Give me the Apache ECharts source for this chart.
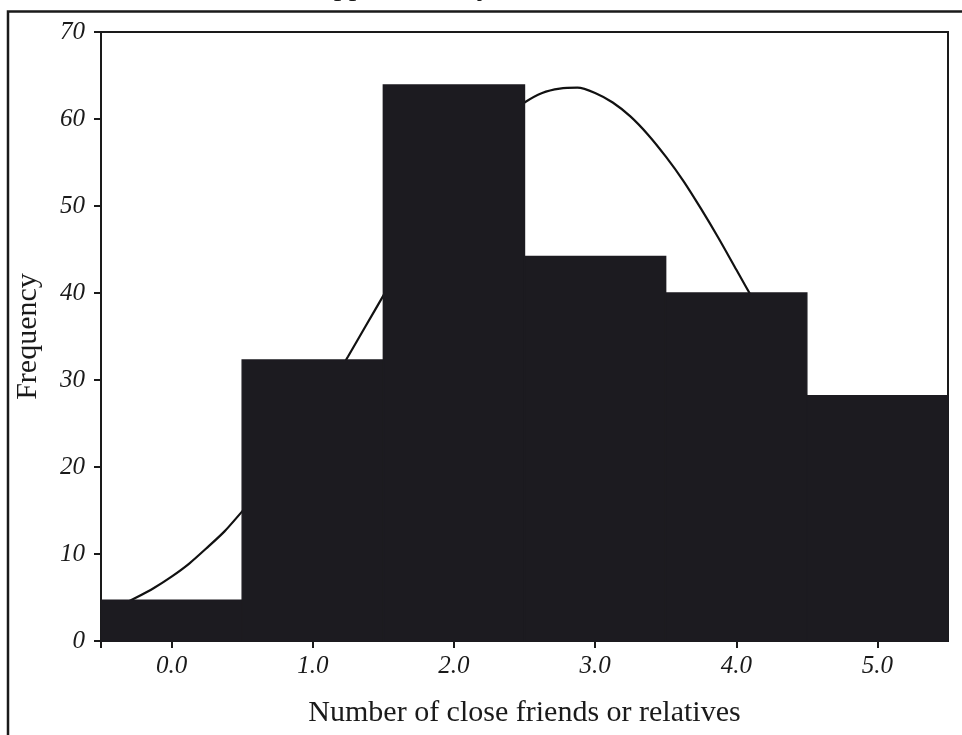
<!DOCTYPE html>
<html>
<head>
<meta charset="utf-8">
<script src="https://cdn.jsdelivr.net/npm/echarts@6/dist/echarts.min.js"></script>
<style>
html,body{margin:0;padding:0;background:#fff;}
#chart{width:962px;height:735px;}
</style>
</head>
<body>
<div id="chart"></div>
<script>
// Histogram bins (centres) and frequencies
const binCenters = [0, 1, 2, 3, 4, 5];
const frequencies = [4.7, 32.3, 63.9, 44.2, 40.0, 28.2];
// Fitted curve (x every 0.125)
const curveX = [-0.5, -0.375, -0.25, -0.125, 0.0, 0.125, 0.25, 0.375, 0.5, 0.625, 0.75, 0.875,
  1.0, 1.125, 1.25, 1.375, 1.5, 1.625, 1.75, 1.875, 2.0, 2.125, 2.25, 2.375, 2.5, 2.625, 2.75, 2.875,
  3.0, 3.125, 3.25, 3.375, 3.5, 3.625, 3.75, 3.875, 4.0, 4.125, 4.25, 4.375, 4.5, 4.625, 4.75, 4.875,
  5.0, 5.125, 5.25, 5.375, 5.5];
const curveY = [3.2, 4.0, 5.0, 6.1, 7.4, 8.9, 10.7, 12.6, 14.9, 17.3, 20.0, 22.9,
  26.0, 29.3, 32.7, 36.2, 39.7, 43.2, 46.7, 50.0, 53.0, 55.8, 58.3, 60.3, 61.9, 63.0, 63.5, 63.6,
  63.0, 61.9, 60.3, 58.2, 55.7, 52.9, 49.7, 46.3, 42.7, 39.1, 35.5, 31.9, 28.1, 25.1, 21.9, 19.0,
  16.4, 13.9, 11.8, 9.9, 8.2];
// Axis ticks / labels
const xTickValues = [-0.5, 0, 1, 2, 3, 4, 5];
const xLabelValues = [0, 1, 2, 3, 4, 5];
const xLabels = ['0.0', '1.0', '2.0', '3.0', '4.0', '5.0'];
const yTicks = [0, 10, 20, 30, 40, 50, 60, 70];
const titleFragment = 'approximately';
const xTitle = 'Number of close friends or relatives';
const yTitle = 'Frequency';

const serif = '"Liberation Serif", "DejaVu Serif", serif';
const chart = echarts.init(document.getElementById('chart'));

const barData = binCenters.map((c, i) => [c, frequencies[i]]);
const curveData = curveX.map((x, i) => [x, curveY[i]]);

chart.setOption({
  animation: false,
  backgroundColor: '#fff',
  graphic: [
    {
      type: 'rect', silent: true, z: 100,
      shape: {x: 8, y: 11.5, width: 1000, height: 800},
      style: {fill: 'none', stroke: '#1a1a1a', lineWidth: 2.5}
    },
    {
      type: 'text', silent: true, z: 100,
      style: {text: titleFragment, x: 321, y: -12.5, verticalAlign: 'middle',
        font: 'italic 30px ' + serif, fill: '#1a1a1a'}
    }
  ],
  grid: {left: 101, right: 14, top: 32, bottom: 94, show: true,
    borderColor: '#1a1a1a', borderWidth: 2, backgroundColor: 'transparent'},
  xAxis: {
    type: 'value', min: -0.5, max: 5.5,
    name: xTitle, nameLocation: 'middle', nameGap: 57,
    nameTextStyle: {fontFamily: serif, fontSize: 30, color: '#1a1a1a'},
    axisLine: {show: true, onZero: false, lineStyle: {color: '#1a1a1a', width: 2}},
    axisTick: {show: true, length: 7, customValues: xTickValues, lineStyle: {color: '#1a1a1a', width: 2}},
    axisLabel: {customValues: xLabelValues, margin: 13, fontFamily: serif, fontStyle: 'italic', fontSize: 25, color: '#1a1a1a',
      formatter: v => { const i = xLabelValues.indexOf(Math.round(v)); return i >= 0 ? xLabels[i] : ''; }},
    splitLine: {show: false}
  },
  yAxis: {
    type: 'value', min: 0, max: 70, interval: 10,
    name: yTitle, nameLocation: 'middle', nameGap: 58,
    nameTextStyle: {fontFamily: serif, fontSize: 30, color: '#1a1a1a'},
    axisLine: {show: true, onZero: false, lineStyle: {color: '#1a1a1a', width: 2}},
    axisTick: {show: true, length: 7, lineStyle: {color: '#1a1a1a', width: 2}},
    axisLabel: {margin: 16, fontFamily: serif, fontStyle: 'italic', fontSize: 25, color: '#1a1a1a',
      formatter: v => yTicks.indexOf(v) >= 0 ? String(v) : ''},
    splitLine: {show: false}
  },
  series: [
    {
      type: 'line', data: curveData, smooth: 0.25, showSymbol: false, z: 1,
      lineStyle: {color: '#111', width: 2.2}, clip: true
    },
    {
      type: 'custom', z: 2, data: barData,
      renderItem: (params, api) => {
        const c = api.value(0), f = api.value(1);
        const p1 = api.coord([c - 0.5, f]);
        const p2 = api.coord([c + 0.5, 0]);
        return {
          type: 'rect',
          shape: {x: p1[0], y: p1[1], width: p2[0] - p1[0], height: p2[1] - p1[1]},
          style: {fill: '#1c1b20', stroke: '#1c1b20', lineWidth: 1.4}
        };
      }
    }
  ]
});
</script>
</body>
</html>
